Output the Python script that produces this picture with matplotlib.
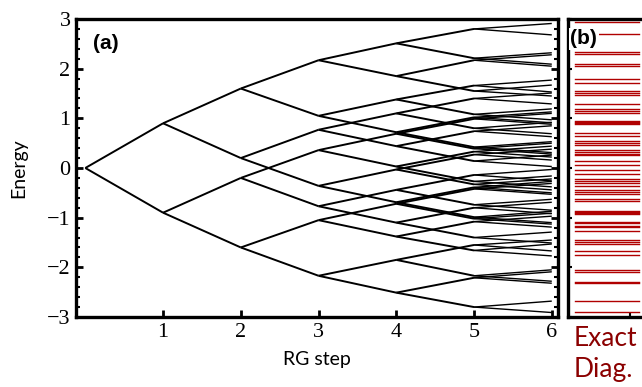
import matplotlib
matplotlib.use("Agg")
import matplotlib.pyplot as plt
from matplotlib.ticker import MultipleLocator

# ---- data ----
rg_steps = [0, 1, 2, 3, 4, 5, 6]
E0 = [0.0]
E1 = [0.90, -0.90]
E2 = [1.60, 0.20, -0.20, -1.60]
E3 = [2.17, 1.05, 0.77, -0.36, 0.36, -0.77, -1.05, -2.17]
E4 = [2.51, 1.85, 1.38, 0.72, 1.10, 0.44, -0.03, -0.69,
      0.69, 0.03, -0.44, -1.10, -0.72, -1.38, -1.85, -2.51]
E5 = [2.80, 2.21, 2.17, 1.55, 1.66, 1.08, 1.02, 0.42,
      1.40, 0.80, 0.74, 0.14, 0.27, -0.33, -0.39, -0.99,
      0.99, 0.39, 0.33, -0.27, -0.14, -0.74, -0.80, -1.40,
      -0.42, -1.02, -1.08, -1.66, -1.55, -2.17, -2.21, -2.80]
E6 = [2.91, 2.68, 2.32, 2.09, 2.28, 2.05, 1.67, 1.45,
      1.77, 1.53, 1.19, 0.97, 1.13, 0.91, 0.53, 0.31,
      1.51, 1.29, 0.92, 0.69, 0.85, 0.63, 0.26, 0.03,
      0.38, 0.16, -0.22, -0.44, -0.27, -0.50, -0.87, -1.10,
      1.10, 0.88, 0.50, 0.28, 0.44, 0.22, -0.16, -0.38,
      -0.03, -0.26, -0.63, -0.85, -0.69, -0.92, -1.29, -1.51,
      -0.31, -0.53, -0.91, -1.13, -0.97, -1.19, -1.53, -1.77,
      -1.45, -1.67, -2.05, -2.28, -2.09, -2.32, -2.68, -2.91]
levels = [E0, E1, E2, E3, E4, E5, E6]

exact_energies = [2.93, 2.70, 2.33, 2.29, 2.09, 2.05, 1.79, 1.71, 1.55, 1.51,
                  1.47, 1.29, 1.19, 1.15, 1.11, 0.95, 0.92, 0.90, 0.88, 0.70,
                  0.65, 0.54, 0.50, 0.46, 0.36, 0.33, 0.29, 0.26, 0.15, 0.07,
                  -0.04, -0.13, -0.22, -0.26, -0.31, -0.36, -0.44, -0.48, -0.53,
                  -0.62, -0.66, -0.86, -0.88, -0.90, -0.92, -1.08, -1.11, -1.16,
                  -1.19, -1.27, -1.45, -1.49, -1.53, -1.68, -1.76, -2.05, -2.09,
                  -2.29, -2.32, -2.68, -2.90]

x_ticks = [1, 2, 3, 4, 5, 6]
y_ticks = [-3, -2, -1, 0, 1, 2, 3]
y_ticklabels = ["\u22123", "\u22122", "\u22121", "0", "1", "2", "3"]

W, H = 642, 387
fig = plt.figure(figsize=(W / 100, H / 100), dpi=100)

def box(l, t, r, b):
    return [l / W, 1 - b / H, (r - l) / W, (b - t) / H]

# ---- panel (a) ----
ax = fig.add_axes(box(76, 19, 558, 317))
for k in range(1, len(levels)):
    lw = 1.4 if k < 6 else 1.0
    for i, e in enumerate(levels[k]):
        parent = levels[k - 1][i // 2]
        ax.plot([rg_steps[k - 1], rg_steps[k]], [parent, e], color="black",
                lw=lw, solid_capstyle="butt")

ax.set_xlim(-0.12, 6.08)
ax.set_ylim(-3, 3)
ax.set_xticks(x_ticks)
ax.set_xticklabels([str(t) for t in x_ticks])
ax.set_yticks(y_ticks)
ax.set_yticklabels(y_ticklabels)
ax.yaxis.set_minor_locator(MultipleLocator(0.2))
ax.tick_params(axis="both", which="major", direction="in", length=5, width=2,
               labelsize=16, pad=4, labelfontfamily="Liberation Serif")
ax.tick_params(axis="y", which="both", right=True)
ax.tick_params(axis="y", which="minor", direction="in", length=3, width=1.5)
ax.tick_params(axis="x", which="both", top=False)
for s in ax.spines.values():
    s.set_linewidth(2.4)
ax.set_xlabel("RG step", family="Lato", fontsize=14, labelpad=7)
ax.set_ylabel("Energy", family="Lato", fontsize=14, labelpad=14)
ax.text(0.035, 0.95, "(a)", transform=ax.transAxes, fontsize=15,
        fontweight="bold", family="Liberation Sans", va="top", ha="left")

# ---- panel (b) ----
bx = fig.add_axes(box(568, 19, 648, 317))
for e in exact_energies:
    bx.plot([0.09, 0.885], [e, e], color="#b00000", lw=1.0)
bx.set_xlim(0, 1)
bx.set_ylim(-3, 3)
bx.set_xticks([0.78])
bx.set_xticklabels([])
bx.set_yticks(y_ticks)
bx.set_yticklabels([])
bx.tick_params(axis="both", direction="in", length=3, width=1.5)
for s in bx.spines.values():
    s.set_linewidth(2.4)
bx.text(0.03, 0.965, "(b)", transform=bx.transAxes, fontsize=15,
        fontweight="bold", family="Liberation Sans", va="top", ha="left",
        bbox=dict(facecolor="white", edgecolor="none", pad=1.0), zorder=5)

fig.text(574 / W, 1 - 338 / H, "Exact", color="#8b0000", family="Lato",
         fontsize=19, ha="left", va="center")
fig.text(574 / W, 1 - 370 / H, "Diag.", color="#8b0000", family="Lato",
         fontsize=19, ha="left", va="center")

fig.savefig("out.png", dpi=100)
